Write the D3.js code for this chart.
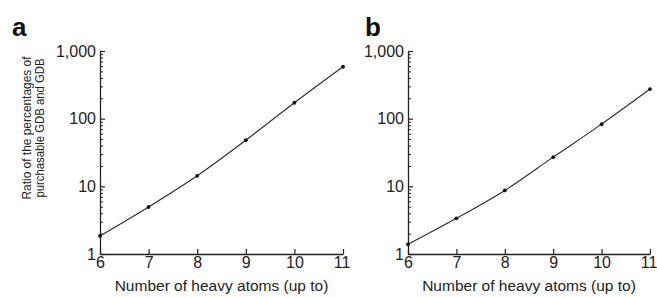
<!DOCTYPE html>
<html>
<head>
<meta charset="utf-8">
<script src="https://cdn.jsdelivr.net/npm/d3@7"></script>
<style>
  body { margin: 0; background: #fff; }
  svg { display: block; font-family: "Liberation Sans", Arial, Helvetica, sans-serif; }
</style>
</head>
<body>
<svg id="chart" width="657" height="298"></svg>
<script>
// data
const atoms = [6, 7, 8, 9, 10, 11];
const ratioA = [1.85, 4.95, 14.3, 48, 172, 585];
const ratioB = [1.39, 3.37, 8.7, 27, 83, 274];
const yTicks = [1, 10, 100, 1000];
const yMinor = [2, 3, 4, 5, 6, 7, 8, 9, 20, 30, 40, 50, 60, 70, 80, 90, 200, 300, 400, 500, 600, 700, 800, 900];

const svg = d3.select("#chart");
const fmt = d3.format(",");

// y scale shared by both panels
const y = d3.scaleLog().domain([1, 1000]).range([254, 51]);

// one panel = axes + line + dots
const drawPanel = (x0, x1, values, letter, withTitle) => {
    const x = d3.scaleLinear().domain([6, 11]).range([x0, x1]);
    const g = svg.append("g");

    // minor y ticks
    g.append("g")
        .attr("transform", `translate(${x0},0)`)
        .call(d3.axisLeft(y).tickValues(yMinor).tickSize(-3).tickSizeOuter(0).tickFormat(""))
        .call(a => a.select(".domain").remove())
        .selectAll("line").attr("stroke", "#222").attr("stroke-width", 1);

    // major y ticks
    g.append("g")
        .attr("transform", `translate(${x0},0)`)
        .call(d3.axisLeft(y).tickValues(yTicks).tickSize(-5).tickSizeOuter(0).tickPadding(4).tickFormat(fmt))
        .call(a => a.select(".domain").attr("stroke", "#222").attr("stroke-width", 1.3))
        .call(a => a.selectAll("line").attr("stroke", "#222").attr("stroke-width", 1.2))
        .selectAll("text").attr("font-size", 16).attr("fill", "#222").attr("font-family", "Liberation Sans, Arial, sans-serif");

    // x axis
    g.append("g")
        .attr("transform", `translate(0,${y(1)})`)
        .call(d3.axisBottom(x).tickValues(atoms).tickSize(-5).tickSizeOuter(0).tickPadding(3).tickFormat(d3.format("d")))
        .call(a => a.select(".domain").attr("stroke", "#222").attr("stroke-width", 1.3))
        .call(a => a.selectAll("line").attr("stroke", "#222").attr("stroke-width", 1.2))
        .selectAll("text").attr("font-size", 16).attr("fill", "#222").attr("font-family", "Liberation Sans, Arial, sans-serif")
        .attr("dx", d => d === 11 ? -1.5 : 0);

    // curve
    const line = d3.line()
        .x((d, i) => x(atoms[i]))
        .y(d => y(d))
        .curve(d3.curveMonotoneX);

    g.append("path")
        .datum(values)
        .attr("d", line)
        .attr("fill", "none")
        .attr("stroke", "#2a2a2a")
        .attr("stroke-width", 1.1);

    g.selectAll("circle")
        .data(values)
        .enter()
        .append("circle")
        .attr("cx", (d, i) => x(atoms[i]))
        .attr("cy", d => y(d))
        .attr("r", 1.9)
        .attr("fill", "#111");

    // x title
    g.append("text")
        .attr("x", (x0 + x1) / 2)
        .attr("y", 291)
        .attr("text-anchor", "middle")
        .attr("font-size", 15.5)
        .attr("fill", "#222")
        .text("Number of heavy atoms (up to)");

    // panel letter
    g.append("text")
        .attr("x", x0 - 88 + (letter === "b" ? 45 : 0))
        .attr("y", 36)
        .attr("font-size", 26)
        .attr("font-weight", "bold")
        .attr("fill", "#111")
        .text(letter);

    if (withTitle) {
        const t = g.append("text")
            .attr("transform", "translate(0,128) rotate(-90)")
            .attr("text-anchor", "middle")
            .attr("font-size", 13.2)
            .attr("fill", "#222");
        t.append("tspan").attr("x", 0).attr("y", 30.5)
            .attr("textLength", 143).attr("lengthAdjust", "spacingAndGlyphs")
            .text("Ratio of the percentages of");
        t.append("tspan").attr("x", 0).attr("y", 43.5)
            .attr("textLength", 139).attr("lengthAdjust", "spacingAndGlyphs")
            .text("purchasable GDB and GDB");
    }
};

drawPanel(100, 343, ratioA, "a", true);
drawPanel(408, 650, ratioB, "b", false);
</script>
</body>
</html>
